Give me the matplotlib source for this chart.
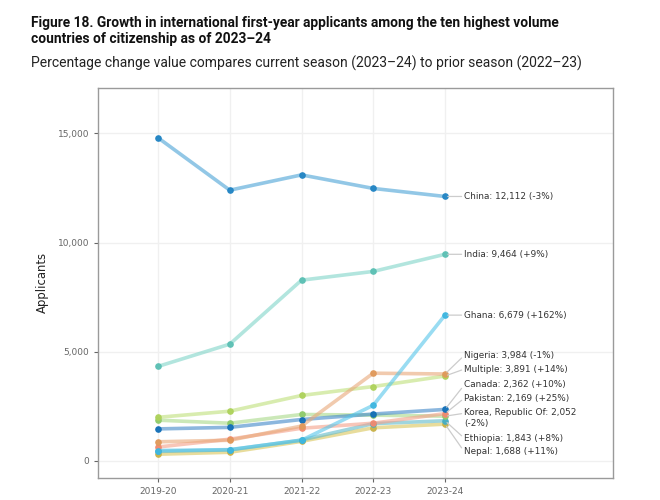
import matplotlib
matplotlib.use("Agg")
import matplotlib.pyplot as plt

seasons = ["2019-20", "2020-21", "2021-22", "2022-23", "2023-24"]
yticks = [0, 5000, 10000, 15000]
china = [14800, 12400, 13100, 12480, 12112]
india = [4330, 5350, 8280, 8680, 9464]
ghana = [480, 520, 950, 2550, 6679]
nigeria = [880, 950, 1600, 4020, 3984]
multiple = [2000, 2280, 3000, 3410, 3891]
canada = [1470, 1540, 1900, 2150, 2362]
pakistan = [640, 1000, 1500, 1730, 2169]
korea = [1870, 1730, 2130, 2100, 2052]
ethiopia = [440, 510, 960, 1710, 1843]
nepal = [310, 400, 900, 1520, 1688]

series = [
    (nepal, "#d9c65a", "#c9b24a"), (ethiopia, "#5fb9c9", "#45aec4"),
    (korea, "#a9d98a", "#8fcb6c"), (pakistan, "#f4a08a", "#f28a70"),
    (canada, "#3f88c9", "#1470b8"), (multiple, "#bfe07a", "#aed25c"),
    (nigeria, "#e8a878", "#e09a5c"), (ghana, "#55c5ea", "#3fb7e0"),
    (india, "#7fd5c8", "#5cc0b4"), (china, "#4aa3d6", "#2385c4"),
]

labels = [
    ("China: 12,112 (-3%)", 12112),
    ("India: 9,464 (+9%)", 9464),
    ("Ghana: 6,679 (+162%)", 6679),
    ("Nigeria: 3,984 (-1%)", 4840),
    ("Multiple: 3,891 (+14%)", 4210),
    ("Canada: 2,362 (+10%)", 3490),
    ("Pakistan: 2,169 (+25%)", 2880),
    ("Korea, Republic Of: 2,052\n(-2%)", 1960),
    ("Ethiopia: 1,843 (+8%)", 1040),
    ("Nepal: 1,688 (+11%)", 420),
]
anchors = [12112, 9464, 6679, 3984, 3891, 2362, 2169, 2052, 1843, 1688]

fig = plt.figure(figsize=(6.6, 5), dpi=100)
W, H = 660, 500
L, R, T, B = 98, 613, 88, 478
ax = fig.add_axes([L / W, 1 - B / H, (R - L) / W, (B - T) / H])
x = list(range(len(seasons)))
ax.set_xlim((L - 158) / 71.75, (R - 158) / 71.75)
y_per_px = 5000 / 109.2
ax.set_ylim((461 - B) * y_per_px, (461 - T) * y_per_px)

ax.grid(True, color="#f0f0f0", lw=1)
ax.set_axisbelow(True)
for s in ["left", "top", "bottom", "right"]:
    ax.spines[s].set_color("#9a9a9a")
    ax.spines[s].set_linewidth(1)

for vals, lc, mc in series:
    ax.plot(x, vals, color=lc, lw=2.6, alpha=0.6, solid_capstyle="round", zorder=3)
    ax.plot(x, vals, ls="none", marker="o", ms=3.8, color=mc, alpha=0.95, zorder=4)

ax.set_xticks(x, seasons)
ax.set_yticks(yticks, [f"{v:,}" for v in yticks])
ax.tick_params(colors="#666666", labelsize=6.5, length=3, width=0.8)
ax.set_ylabel("Applicants", fontsize=8.4, color="#222222", labelpad=6)

for (txt, ly), ay in zip(labels, anchors):
    ax.annotate(txt, xy=(4, ay), xytext=(4.27, ly), fontsize=6.4, color="#333333",
                va="center", ha="left", linespacing=1.25, zorder=5,
                arrowprops=dict(arrowstyle="-", color="#cccccc", lw=0.9,
                                shrinkA=0, shrinkB=2,
                                relpos=(0, 0.75 if "\n" in txt else 0.5)),
                annotation_clip=False)

fig.text(31 / W, 1 - 23 / H, "Figure 18. Growth in international first-year applicants among the ten highest volume",
         fontsize=9.9, fontweight="bold", family="Roboto", va="center", color="#111111")
fig.text(31 / W, 1 - 39 / H, "countries of citizenship as of 2023\u201324",
         fontsize=9.9, fontweight="bold", family="Roboto", va="center", color="#111111")
fig.text(31 / W, 1 - 63 / H, "Percentage change value compares current season (2023\u201324) to prior season (2022\u201323)",
         fontsize=10.0, family="Roboto", va="center", color="#222222")
fig.savefig("out.png", dpi=100, facecolor="white")
